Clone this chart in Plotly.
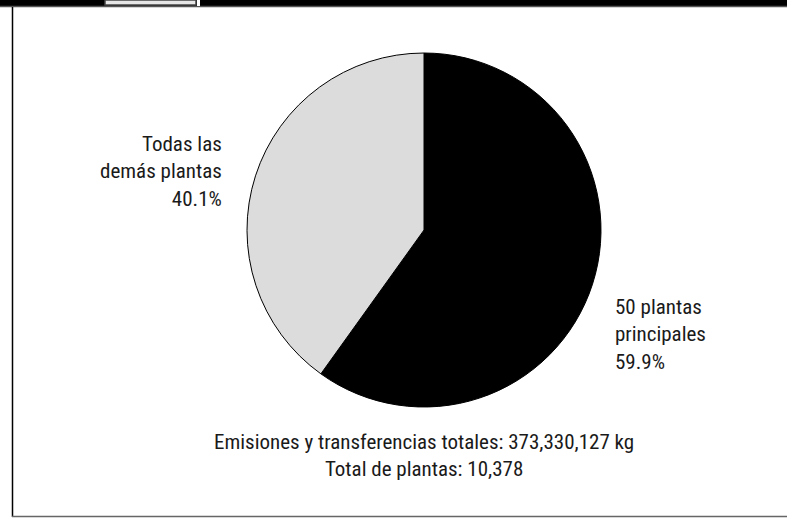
import plotly.graph_objects as go

W, H = 787, 518

# Data
labels = ["50 plantas principales", "Todas las demás plantas"]
values = [59.9, 40.1]
colors = ["#000000", "#dcdcdc"]
label_texts = ["50 plantas<br>principales<br>59.9%", "Todas las<br>demás plantas<br>40.1%"]
footer_text = "Emisiones y transferencias totales: 373,330,127 kg<br>Total de plantas: 10,378"

FONT = "Liberation Sans Narrow, Arial Narrow, Roboto Condensed, Liberation Sans, sans-serif"

def px(x):
    return x / W

def py(y):
    return (H - y) / H

fig = go.Figure()
fig.add_trace(go.Pie(
    labels=labels,
    values=values,
    sort=False,
    direction="clockwise",
    rotation=0,
    marker=dict(colors=colors, line=dict(color="#000000", width=1)),
    textinfo="none",
    hoverinfo="label+percent",
    showlegend=False,
    domain=dict(x=[px(247), px(601)], y=[py(407), py(53)]),
))

annotations = [
    dict(text=label_texts[1], x=px(224), y=py(171), xanchor="right", yanchor="middle", align="right"),
    dict(text=label_texts[0], x=px(613), y=py(334), xanchor="left", yanchor="middle", align="left"),
    dict(text=footer_text, x=px(424), y=py(455), xanchor="center", yanchor="middle", align="center"),
]
for a in annotations:
    a.update(xref="paper", yref="paper", showarrow=False,
             font=dict(family=FONT, size=21, color="#1a1a1a"))

shapes = [
    # top black band
    dict(type="rect", x0=0, x1=1, y0=py(6), y1=1, fillcolor="#000000", line=dict(width=0)),
    dict(type="line", x0=0, x1=1, y0=py(6.5), y1=py(6.5), line=dict(color="#555555", width=1.5)),
    # gray tab
    dict(type="rect", x0=px(105), x1=px(196), y0=py(5), y1=1, fillcolor="#e6e6e6",
         line=dict(color="#444444", width=1.5)),
    dict(type="rect", x0=px(197), x1=px(200), y0=py(6), y1=1, fillcolor="#ffffff", line=dict(width=0)),
    # left border
    dict(type="line", x0=px(12.5), x1=px(12.5), y0=py(7), y1=py(517), line=dict(color="#000000", width=1.5)),
    # bottom border
    dict(type="line", x0=px(12), x1=1, y0=py(516.5), y1=py(516.5), line=dict(color="#666666", width=1.5)),
]

fig.update_layout(
    width=W, height=H,
    margin=dict(l=0, r=0, t=0, b=0),
    paper_bgcolor="#ffffff",
    plot_bgcolor="#ffffff",
    annotations=annotations,
    shapes=shapes,
)

fig.write_html(
    "out.html",
    config={"displayModeBar": False},
    post_script="document.body.style.margin='0';document.body.style.overflow='hidden';",
)
